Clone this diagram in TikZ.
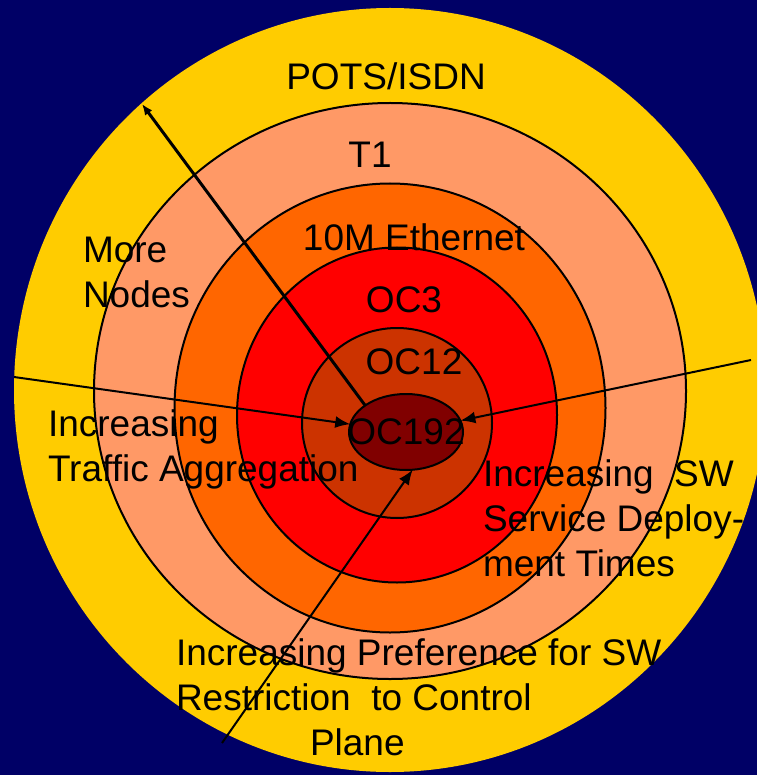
\documentclass[tikz,border=0pt]{standalone}
\usepackage{fontspec}
\setmainfont{Liberation Sans}
\usetikzlibrary{shapes,arrows.meta}
\definecolor{slidebg}{HTML}{000066}
\definecolor{potsyellow}{HTML}{FFCC00}
\definecolor{tonesalmon}{HTML}{FF9966}
\definecolor{ethorange}{HTML}{FF6600}
\definecolor{ocred}{HTML}{FF0000}
\definecolor{ocrust}{HTML}{CC3300}
\definecolor{ocmaroon}{HTML}{800000}
\tikzstyle{ring}=[draw,ellipse,line width=2pt,inner sep=0pt,outer sep=0pt]
\tikzstyle{rate}=[font=\fontsize{37}{45}\selectfont,inner sep=0pt]
\newcommand{\newRing}[6]{\node[ring,fill=#3,minimum width=#4,minimum height=#5,#6](#1) at (#2) {};}
\newcommand{\newRate}[4]{\node[rate,#3](#1) at (#2) {#4};}

\begin{document}
\begin{tikzpicture}[x=1pt,y=-1pt,
  >={Latex[length=15pt,width=12pt]},
  line width=2pt  %same for rings and arrows
  ]
  \clip (0,0) rectangle (757,775);
  \fill[slidebg] (0,0) rectangle (757,775);
  \newRing{pots}{390,390}{potsyellow}{752pt}{764pt}{draw=none}
  \newRing{t1}{390,391}{tonesalmon}{592pt}{576pt}{}
  \newRing{eth}{390,408}{ethorange}{431pt}{449pt}{}
  \newRing{oc3}{397,415}{ocred}{320pt}{335pt}{}
  \newRing{oc12}{397,423}{ocrust}{190pt}{190pt}{}
  \newRing{oc192}{406,432}{ocmaroon}{114pt}{76pt}{}
  \newRate{potsText}{386,76}{}{POTS/ISDN}
  \newRate{t1Text}{370,155}{}{T1}
  \newRate{ethText}{414,237}{}{10M Ethernet}
  \newRate{oc3Text}{404,300}{}{OC3}
  \newRate{oc12Text}{414,362}{}{OC12}
  \newRate{oc192Text}{406,432}{}{OC192}
  \newRate{nodesText}{82,272}{anchor=west,align=left}{More\\Nodes}
  \newRate{trafficText}{47,449}{anchor=west,align=left}{Increasing\\Traffic Aggregation}
  \newRate{swText}{482,518}{anchor=west,align=left}{Increasing~~SW\\Service Deploy-\\ment Times}
  \newRate{ctrlText}{175,697}{anchor=west,align=left}{Increasing Preference for SW\\Restriction~~to Control\\\hspace*{134pt}Plane}
  \coordinate (nodesEnd) at (142,104);
  \coordinate (trafficStart) at (14,377);
  \coordinate (swStart) at (751,360);
  \coordinate (ctrlStart) at (222,743);
  \draw[-{Latex[length=11pt,width=9pt]},line width=3pt] (oc192.147) -- (nodesEnd);
  \draw[->] (trafficStart) -- (oc192);
  \draw[->] (swStart) -- (oc192);
  \draw[->] (ctrlStart) -- (oc192.-80);
\end{tikzpicture}
\end{document}
